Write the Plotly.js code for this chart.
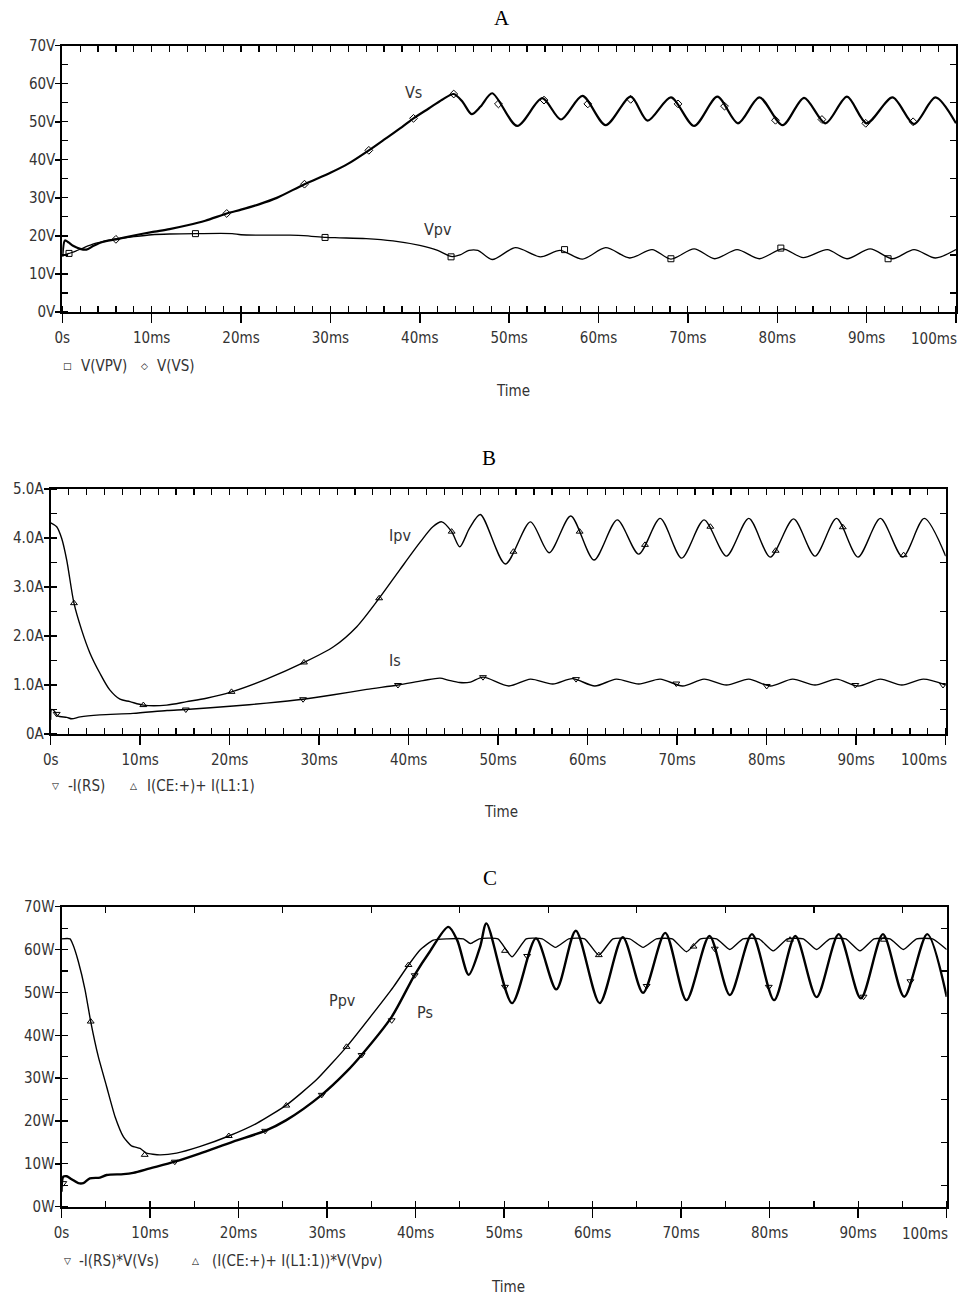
<!DOCTYPE html>
<html><head><meta charset="utf-8">
<script src="https://cdn.plot.ly/plotly-3.0.1.min.js"></script>
<style>html,body{margin:0;padding:0;background:#fff}#chart{width:963px;height:1296px}</style>
</head><body><div id="chart"></div>
<script>
// ---------- Data (time in ms) ----------
const xTickVals = [0,10,20,30,40,50,60,70,80,90,100];
const xTickText = ['0s','10ms','20ms','30ms','40ms','50ms','60ms','70ms','80ms','90ms','100ms'];
const yTickValsA = [0,10,20,30,40,50,60,70];
const yTickTextA = ['0V','10V','20V','30V','40V','50V','60V','70V'];
const yTickValsB = [0,1,2,3,4,5];
const yTickTextB = ['0A','1.0A','2.0A','3.0A','4.0A','5.0A'];
const yTickValsC = [0,10,20,30,40,50,60,70];
const yTickTextC = ['0W','10W','20W','30W','40W','50W','60W','70W'];

// Panel A
const tVs = [0,0.3,0.7,1.2,2,2.7,3.5,4.5,6,8,10,12,14,16,18.4,20,22,24,27.1,30,32,34.3,36,38,39.3,41,42.5,43.8,44.8,45.8,46.8,48.1,50.9,53.7,55.8,58.2,60.8,63.6,65.5,68.1,70.7,73.3,75.6,78.0,80.6,83.0,85.4,87.8,90.0,92.9,95.3,97.7,100];
const vVs = [14.5,18.8,18.3,17.4,16.6,16.4,17.4,18.4,19.1,20.1,21.0,21.8,22.8,24.0,25.9,26.9,28.3,30.0,33.6,36.6,39.0,42.5,45.3,48.6,50.9,53.5,55.8,57.3,55.2,52.0,54.0,57.5,48.9,56.2,50.6,56.8,49.1,56.6,50.3,56.4,48.9,56.6,49.6,56.4,49.1,56.3,49.6,56.6,49.6,56.4,49.4,56.4,49.6];
const tVpv = [0,0.75,1.5,2.5,3.5,4.5,6,8,10,12,15,19,20,25,27,29.5,31,34,37,40,42,43.5,44.5,45.5,46.5,48.1,50.7,53.5,55.7,58.2,60.8,63.5,66.0,68.1,70.7,73.0,75.5,78.0,80.6,82.9,85.6,87.8,90.4,92.9,95.3,97.7,100];
const vVpv = [14.8,15.4,16.0,17.0,17.9,18.5,19.2,19.8,20.3,20.5,20.6,20.6,20.3,20.2,20.1,19.6,19.5,19.3,18.7,17.5,16.2,14.6,15.0,16.2,16.2,13.8,16.9,14.5,16.2,13.9,16.9,14.2,16.4,13.9,16.6,14.0,16.4,14.0,16.6,14.3,16.4,14.0,16.6,14.0,16.4,14.2,16.4];
const tVpvMk = [0.75,14.9,29.4,43.5,56.2,68.1,80.4,92.4];
const vVpvMk = [15.4,20.6,19.6,14.5,16.4,14.0,16.8,14.0];
const tVsMk = [6,18.4,27.1,34.3,39.3,43.8,48.8,53.9,58.8,63.6,68.9,74.1,79.8,85.0,89.9,95.2];
const vVsMk = [19.1,25.9,33.6,42.5,50.9,57.3,54.7,55.7,54.7,55.9,54.7,54.1,50.4,50.6,49.6,50.0];

// Panel B
const tIpv = [0,0.67,1.23,1.79,2.6,3.46,4.39,5.5,6.6,7.74,8.86,10.35,12.96,15.2,17.4,20.2,24.1,28.3,31.6,34.2,36.7,39.0,41.3,42.7,43.7,44.8,45.7,46.8,48.0,50.8,53.6,55.7,58.1,60.7,63.3,65.7,68.1,70.5,73.0,75.5,78.0,80.4,83.0,85.4,87.8,90.2,92.7,95.2,97.6,100];
const vIpv = [4.31,4.23,3.99,3.55,2.67,2.12,1.65,1.24,0.90,0.71,0.66,0.59,0.59,0.66,0.73,0.86,1.12,1.46,1.78,2.19,2.77,3.35,3.92,4.23,4.33,4.13,3.82,4.20,4.48,3.47,4.33,3.70,4.45,3.55,4.37,3.67,4.40,3.59,4.37,3.63,4.40,3.61,4.39,3.63,4.40,3.61,4.40,3.61,4.40,3.63];
const tIs = [0,0.1,0.4,0.77,1.8,2.35,3.3,5.5,9.2,13,15.1,20.4,24.1,28.2,31.6,35.3,38.8,41.6,43.5,44.4,45.7,46.9,48.3,51.2,53.6,56.1,58.3,60.8,63.2,65.7,68.1,70.6,73.0,75.5,78.0,80.4,82.9,85.4,87.8,90.2,92.7,95.1,97.5,100];
const vIs = [0.29,0.50,0.47,0.37,0.34,0.31,0.35,0.39,0.42,0.48,0.50,0.57,0.63,0.71,0.80,0.91,1.00,1.09,1.14,1.10,1.05,1.06,1.16,0.98,1.12,1.02,1.13,0.98,1.12,1.02,1.12,0.98,1.12,1.00,1.12,0.98,1.12,1.00,1.12,0.98,1.12,1.00,1.12,1.00];
const tIpvMk = [2.6,10.35,20.2,28.3,36.7,44.8,51.7,59.1,66.4,73.7,81.0,88.5,95.3];
const vIpvMk = [2.67,0.59,0.86,1.46,2.77,4.13,3.72,4.13,3.86,4.23,3.74,4.22,3.65];
const tIsMk = [0.67,15.1,28.2,38.8,48.3,58.7,69.9,80.0,89.9,99.7];
const vIsMk = [0.41,0.50,0.71,1.0,1.16,1.12,1.03,0.98,1.0,1.0];

// Panel C
const tPpv = [0,0.96,1.3,1.9,2.66,3.3,4.16,5.1,6.05,7.0,7.9,8.87,9.6,11.1,13.0,15.6,18.9,22.1,25.4,28.8,32.2,35.2,37.5,39.2,40.5,42.0,43.6,45.4,46.2,47.2,49.3,50.9,52.5,54.3,55.8,57.3,59.1,60.7,62.3,64.2,65.7,67.2,69.0,70.6,72.2,74.0,75.5,77.0,78.8,80.4,82.0,83.8,85.3,86.8,88.6,90.2,91.8,93.6,95.1,96.6,98.4,100];
const vPpv = [62.5,62.5,61.1,57.2,50.6,43.2,35.0,28.0,21.0,16.3,14.2,13.6,12.5,12.1,12.5,14.0,16.5,19.5,23.7,29.6,37.3,45.1,51.3,56.4,59.9,62.2,62.5,62.5,61.4,62.5,62.5,58.3,62.5,62.5,60.5,62.5,62.5,58.7,62.5,62.5,60.5,62.5,62.5,59.5,62.5,62.5,60.0,62.5,62.5,59.7,62.5,62.5,60.0,62.5,62.5,59.7,62.5,62.5,60.0,62.5,62.5,60.0];
const tPs = [0,0.2,0.6,1.15,1.9,2.46,3.2,4.35,5.1,7.0,8.1,10,12.8,15.6,19.4,23.0,25.4,29.4,32.2,33.9,37.3,39.9,41.6,43.7,44.7,46.0,47.3,48.0,50.9,53.6,55.9,58.1,60.8,63.4,65.7,68.2,70.6,73.2,75.5,78.0,80.5,82.9,85.3,87.8,90.3,92.8,95.2,97.8,100];
const vPs = [3.5,7.0,7.1,6.4,5.5,5.5,6.6,6.8,7.4,7.6,7.9,8.95,10.5,12.4,15.2,17.7,20.2,26.1,31.5,35.4,44.3,54.1,59.5,65.3,62.2,54.1,60.7,66.1,47.5,62.6,50.7,64.4,47.5,62.9,49.9,63.9,48.2,63.2,49.4,63.6,48.2,63.2,48.9,63.6,48.6,63.6,49.0,63.6,49.0];
const tPpvMk = [3.3,9.4,18.9,25.4,32.2,39.2,50.1,60.7,71.4,82.3,92.9];
const vPpvMk = [43.2,12.1,16.5,23.6,37.3,56.4,59.7,58.7,60.7,62.3,62.3];
const tPsMk = [0.2,12.8,23.0,29.4,33.9,37.3,39.9,50.1,52.6,66.1,73.8,79.9,90.6,95.9];
const vPsMk = [5.5,10.5,17.7,26.1,35.4,43.5,54.0,51.3,58.5,51.5,60.2,51.3,49.0,52.6];

// ---------- Layout geometry (pixels) ----------
const W = 963, H = 1296;
const FN = "'Liberation Sans Narrow', 'Arial Narrow', 'DejaVu Sans Condensed', 'Liberation Sans', sans-serif";
const TXT = '#333';
const px = v => v / W;
const py = v => 1 - v / H;
const panels = [
  {x0:62.3, x1:956,   y0:45.7,  y1:312,    yr:[0,70], yv:yTickValsA, yt:yTickTextA, ymin:5,   rt0:5,   rdt:10, xmin:2, tt0:0, tdt:2},
  {x0:50.7, x1:945.7, y0:489,   y1:734,    yr:[0,5],  yv:yTickValsB, yt:yTickTextB, ymin:0.5, rt0:0.5, rdt:1,  xmin:2, tt0:0, tdt:2},
  {x0:61.5, x1:946.7, y0:906.7, y1:1206.7, yr:[0,70], yv:yTickValsC, yt:yTickTextC, ymin:5,   rt0:5,   rdt:10, xmin:5, tt0:5, tdt:10}
];

const layout = {
  width: W, height: H,
  margin: {l:0, r:0, t:0, b:0},
  paper_bgcolor: '#fff', plot_bgcolor: '#fff',
  showlegend: false,
  font: {family: FN, color: TXT, size: 15},
  annotations: []
};

// last x tick label ("100ms") is drawn right-aligned at the axis end, like the original
const xTickTextShown = xTickText.map((t, i) => i === xTickText.length - 1 ? '' : t);

panels.forEach((p, i) => {
  const n = i + 1;
  const xs = n === 1 ? '' : String(n);
  const xd = [px(p.x0), px(p.x1)];
  const yd = [py(p.y1), py(p.y0)];
  layout['xaxis' + xs] = {
    domain: xd, anchor: 'y' + xs, range: [0, 100],
    tickvals: xTickVals, ticktext: xTickTextShown,
    ticks: 'outside', ticklen: 9, tickwidth: 1.5, tickcolor: '#000',
    ticklabelstandoff: 2,
    minor: {ticks: 'inside', dtick: p.xmin, tick0: 0, ticklen: 6, tickwidth: 1.2, tickcolor: '#000'},
    showline: true, linecolor: '#000', linewidth: 2,
    showgrid: false, zeroline: false, fixedrange: true,
    tickfont: {family: FN, size: 15, color: TXT}
  };
  layout['yaxis' + xs] = {
    domain: yd, anchor: 'x' + xs, range: p.yr,
    tickvals: p.yv, ticktext: p.yt,
    ticks: 'outside', ticklen: 5, tickwidth: 1.5, tickcolor: '#000',
    ticklabelstandoff: -3,
    minor: {ticks: 'inside', dtick: p.ymin, tick0: 0, ticklen: 6, tickwidth: 1.2, tickcolor: '#000'},
    showline: true, linecolor: '#000', linewidth: 2,
    showgrid: false, zeroline: false, fixedrange: true,
    tickfont: {family: FN, size: 15, color: TXT}
  };
  const tn = String(n + 3);
  layout['xaxis' + tn] = {
    overlaying: 'x' + xs, side: 'top', anchor: 'y' + xs, range: [0, 100],
    tick0: p.tt0, dtick: p.tdt, ticks: 'inside', ticklen: 6, tickwidth: 1.2, tickcolor: '#000',
    showticklabels: false, showline: true, linecolor: '#000', linewidth: 2,
    showgrid: false, zeroline: false, fixedrange: true
  };
  layout['yaxis' + tn] = {
    overlaying: 'y' + xs, side: 'right', anchor: 'x' + xs, range: p.yr,
    tick0: p.rt0, dtick: p.rdt, ticks: 'inside', ticklen: 6, tickwidth: 1.2, tickcolor: '#000',
    showticklabels: false, showline: true, linecolor: '#000', linewidth: 2,
    showgrid: false, zeroline: false, fixedrange: true
  };
});

function ann(text, x, y, opts) {
  layout.annotations.push(Object.assign({
    text: text, xref: 'paper', yref: 'paper', x: px(x), y: py(y),
    xanchor: 'center', yanchor: 'middle', showarrow: false,
    font: {family: FN, size: 15, color: TXT}
  }, opts || {}));
}
function lbl(text, xr, yr, x, y) {
  layout.annotations.push({text: text, xref: xr, yref: yr, x: x, y: y, showarrow: false,
    xanchor: 'center', yanchor: 'middle', font: {family: FN, size: 16, color: TXT}});
}

// "100ms" end labels
ann(xTickText[10], 959, 339, {xanchor: 'right'});
ann(xTickText[10], 949, 760, {xanchor: 'right'});
ann(xTickText[10], 950, 1234, {xanchor: 'right'});

// Panel titles
const serif = {family: "'Liberation Serif', 'Times New Roman', serif", size: 21, color: '#000'};
ann('A', 502, 18, {font: serif});
ann('B', 489, 458, {font: serif});
ann('C', 490, 878, {font: serif});

// Time labels
ann('Time', 513, 391);
ann('Time', 501, 812);
ann('Time', 508, 1287);

// Legends
const symF = {family: "'DejaVu Sans', sans-serif", size: 9, color: '#000'};
ann('□', 67, 366, {font: symF});
ann('V(VPV)', 79, 366, {xanchor: 'left'});
ann('◇', 144, 366, {font: symF});
ann('V(VS)', 155, 366, {xanchor: 'left'});

ann('▽', 55, 786, {font: symF});
ann('-I(RS)', 66, 786, {xanchor: 'left'});
ann('△', 133, 786, {font: symF});
ann('I(CE:+)+ I(L1:1)', 145, 786, {xanchor: 'left'});

ann('▽', 67, 1261, {font: symF});
ann('-I(RS)*V(Vs)', 77, 1261, {xanchor: 'left'});
ann('△', 195, 1261, {font: symF});
ann('(I(CE:+)+ I(L1:1))*V(Vpv)', 210, 1261, {xanchor: 'left'});

// Curve labels (data coordinates)
lbl('Vs', 'x', 'y', 39.3, 57.8);
lbl('Vpv', 'x', 'y', 42.0, 21.8);
lbl('Ipv', 'x2', 'y2', 39.0, 4.06);
lbl('Is', 'x2', 'y2', 38.5, 1.49);
lbl('Ppv', 'x3', 'y3', 31.8, 48.0);
lbl('Ps', 'x3', 'y3', 41.1, 45.2);

// ---------- Traces ----------
function line(x, y, ax, w, sm) {
  return {type: 'scatter', mode: 'lines', x: x, y: y, xaxis: 'x' + ax, yaxis: 'y' + ax,
    line: {color: '#000', width: w, shape: 'spline', smoothing: sm}, hoverinfo: 'skip'};
}
function mk(x, y, ax, sym) {
  return {type: 'scatter', mode: 'markers', x: x, y: y, xaxis: 'x' + ax, yaxis: 'y' + ax,
    marker: {symbol: sym, size: 6, color: '#000', line: {color: '#000', width: 1}}, hoverinfo: 'skip'};
}
// empty traces so the top/right frame axes get drawn
function frame(xa, ya) {
  return {type: 'scatter', mode: 'lines', x: [null], y: [null], xaxis: xa, yaxis: ya, hoverinfo: 'skip'};
}
const data = [
  line(tVpv, vVpv, '', 1.3, 0.8),
  line(tVs, vVs, '', 2.2, 0.8),
  mk(tVpvMk, vVpvMk, '', 'square-open'),
  mk(tVsMk, vVsMk, '', 'diamond-open'),
  line(tIpv, vIpv, '2', 1.4, 0.8),
  line(tIs, vIs, '2', 1.4, 0.8),
  mk(tIpvMk, vIpvMk, '2', 'triangle-up-open'),
  mk(tIsMk, vIsMk, '2', 'triangle-down-open'),
  line(tPpv, vPpv, '3', 1.4, 0.5),
  line(tPs, vPs, '3', 2.4, 0.8),
  mk(tPpvMk, vPpvMk, '3', 'triangle-up-open'),
  mk(tPsMk, vPsMk, '3', 'triangle-down-open'),
  frame('x4', 'y'), frame('x', 'y4'),
  frame('x5', 'y2'), frame('x2', 'y5'),
  frame('x6', 'y3'), frame('x3', 'y6')
];

Plotly.newPlot('chart', data, layout, {staticPlot: true, displayModeBar: false});
</script></body></html>
